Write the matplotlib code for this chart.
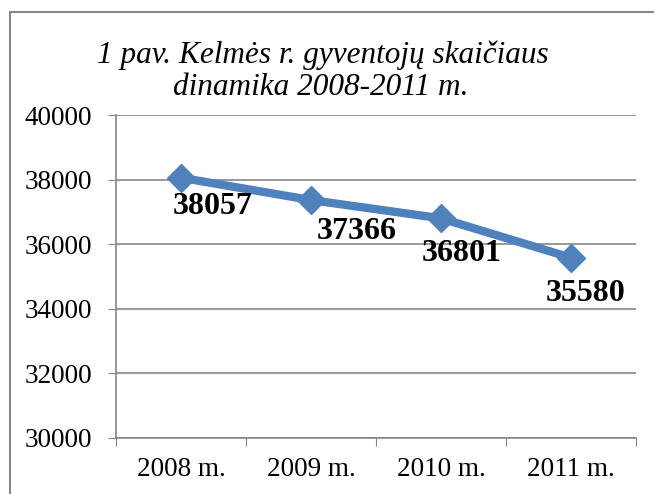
import matplotlib.pyplot as plt
from matplotlib.patches import Rectangle

years = ['2008 m.', '2009 m.', '2010 m.', '2011 m.']
population = [38057, 37366, 36801, 35580]
yticks = [30000, 32000, 34000, 36000, 38000, 40000]
# label offsets (pixels) from each point, as placed in the original
label_offsets = [(32, -25), (46, -28), (21, -32), (15, -32)]

plt.rcParams['font.family'] = ['Liberation Serif', 'DejaVu Serif']

fig = plt.figure(figsize=(6.54, 4.94), dpi=100)
ax = fig.add_axes([0.1774, 0.1134, 0.7951, 0.6538])

x = [i + 0.5 for i in range(len(years))]
ax.plot(x, population, color='#4F81BD', lw=6, marker='D', ms=14.5,
        solid_joinstyle='round', zorder=3)
for xi, yi, (dx, dy) in zip(x, population, label_offsets):
    ax.annotate(str(yi), (xi, yi), xytext=(dx * 0.72, dy * 0.72),
                textcoords='offset points', ha='center', va='center_baseline',
                fontsize=23, fontweight='bold', zorder=4)

ax.set_xlim(0, 4)
ax.set_ylim(30000, 40000)
ax.set_yticks(yticks)
ax.set_xticks([0, 1, 2, 3, 4])
ax.set_xticklabels([])
ax.set_xticks(x, minor=True)
ax.set_xticklabels(years, minor=True, fontsize=19.5)
ax.tick_params(axis='x', which='minor', length=0, pad=14)
ax.tick_params(axis='x', which='major', length=6, color='#868686', direction='out')
ax.tick_params(axis='y', length=6, color='#868686', labelsize=19.5, pad=11)
ax.grid(axis='y', color='#868686', lw=1.2)
for s in ['top', 'right']:
    ax.spines[s].set_visible(False)
for s in ['left', 'bottom']:
    ax.spines[s].set_color('#868686')
    ax.spines[s].set_linewidth(1.2)

fig.text(0.493, 1 - 63 / 494, '1 pav. Kelmės r. gyventojų skaičiaus',
         ha='center', va='baseline', fontsize=22.5, style='italic')
fig.text(0.491, 1 - 95 / 494, 'dinamika 2008-2011 m.',
         ha='center', va='baseline', fontsize=22.5, style='italic')

fig.patches.append(Rectangle((10 / 654, -0.1), 1.2, 1 - 12 / 494 + 0.1,
                             transform=fig.transFigure, fill=False,
                             edgecolor='#868686', lw=1.5))

fig.savefig('out.png', dpi=100)
